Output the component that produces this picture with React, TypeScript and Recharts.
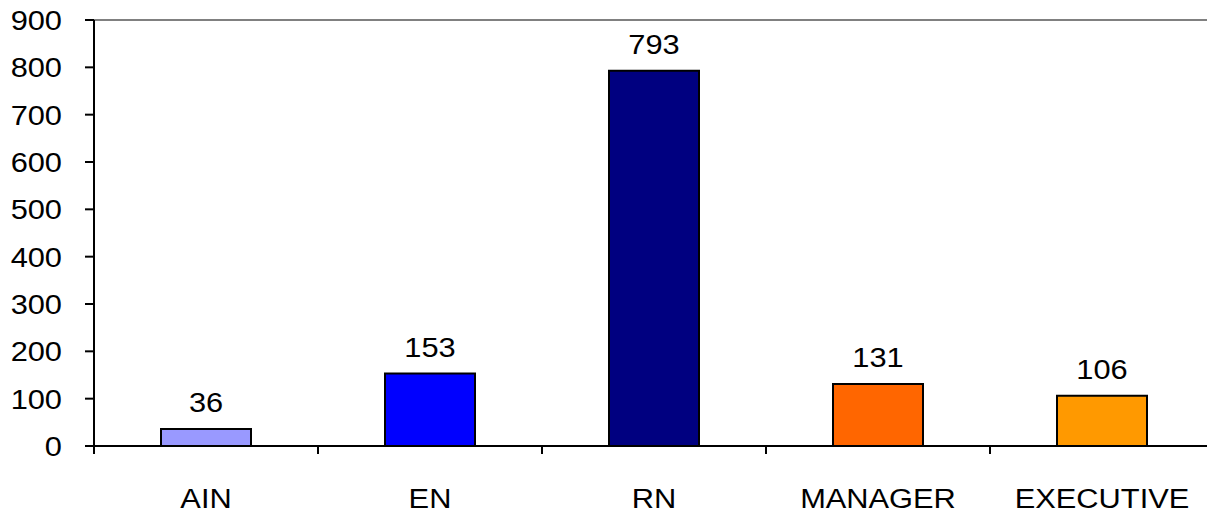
import React from 'react';
import { BarChart, Bar, XAxis, YAxis, Cell, LabelList, ReferenceLine } from 'recharts';

// Staff counts by role
const categories = ['AIN', 'EN', 'RN', 'MANAGER', 'EXECUTIVE'];
const counts = [36, 153, 793, 131, 106];
const barColors = ['#9999FF', '#0000FF', '#000080', '#FF6600', '#FF9900'];
const yTicks = [0, 100, 200, 300, 400, 500, 600, 700, 800, 900];

const data = categories.map((name, i) => ({ name, value: counts[i] }));

const FONT = '"Liberation Sans", Arial, sans-serif';
const FONT_SIZE = 28;
const STRETCH = 1.1;

// Text drawn slightly wider than the font's natural proportions
const WideText = ({ x, y, anchor, dy, children }: any) => (
  <text
    transform={`translate(${x},${y}) scale(${STRETCH},1)`}
    textAnchor={anchor}
    dy={dy}
    fontSize={FONT_SIZE}
    fontFamily={FONT}
    fill="#000"
  >
    {children}
  </text>
);

// Category tick: label centred under the bar, tick mark on the left boundary of the band
const CategoryTick = (props: any) => {
  const { x, y, payload } = props;
  const half = payload && payload.offset ? payload.offset : 112;
  return (
    <g>
      <line x1={x - half} y1={y} x2={x - half} y2={y + 8} stroke="#000" strokeWidth={2} />
      <WideText x={x} y={y + 62} anchor="middle">
        {payload.value}
      </WideText>
    </g>
  );
};

const ValueTick = (props: any) => {
  const { x, y, payload } = props;
  return (
    <WideText x={x} y={y} anchor="end" dy="0.36em">
      {payload.value}
    </WideText>
  );
};

const ValueLabel = (props: any) => {
  const { x, y, width, value } = props;
  return (
    <WideText x={x + width / 2} y={y - 17} anchor="middle">
      {value}
    </WideText>
  );
};

export default function App() {
  return (
    <div
      style={{
        position: 'fixed',
        left: 0,
        top: 0,
        width: 1207,
        height: 514,
        overflow: 'hidden',
        background: '#fff',
      }}
    >
      <BarChart
        width={1214}
        height={514}
        data={data}
        margin={{ top: 20, right: 0, bottom: 0, left: 0 }}
        barCategoryGap={0}
        style={{ overflow: 'visible' }}
      >
        <ReferenceLine y={900} stroke="#808080" strokeWidth={2} />
        <XAxis
          dataKey="name"
          height={68}
          axisLine={{ stroke: '#000', strokeWidth: 2 }}
          tickLine={false}
          tickSize={0}
          tickMargin={0}
          interval={0}
          tick={<CategoryTick />}
        />
        <YAxis
          width={94}
          domain={[0, 900]}
          ticks={yTicks}
          interval={0}
          axisLine={{ stroke: '#000', strokeWidth: 2 }}
          tickLine={{ stroke: '#000', strokeWidth: 2 }}
          tickSize={9}
          tickMargin={23}
          tick={<ValueTick />}
        />
        <Bar dataKey="value" barSize={90} stroke="#000" strokeWidth={2} isAnimationActive={false}>
          {data.map((d, i) => (
            <Cell key={d.name} fill={barColors[i]} />
          ))}
          <LabelList dataKey="value" content={<ValueLabel />} />
        </Bar>
      </BarChart>
    </div>
  );
}
